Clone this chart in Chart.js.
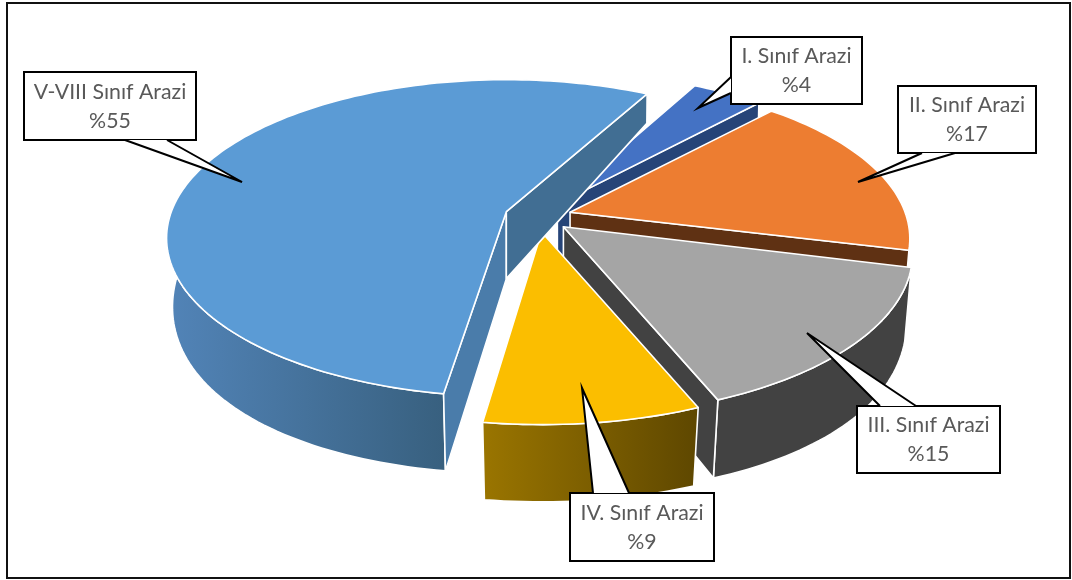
<!DOCTYPE html>
<html><head><meta charset="utf-8">
<style>html,body{margin:0;padding:0;background:#fff}#w{position:relative;width:1072px;height:580px}canvas{display:block}</style>
<script src="https://cdn.jsdelivr.net/npm/chart.js@4"></script></head>
<body><div id="w"><canvas id="c" width="1072" height="580"></canvas></div>
<script>
const categories = ['I. Sınıf Arazi','II. Sınıf Arazi','III. Sınıf Arazi','IV. Sınıf Arazi','V-VIII Sınıf Arazi'];
const values = [4,17,15,9,55];
const topColors = ['#4472C4','#ED7D31','#A5A5A5','#FBBE00','#5B9BD5'];
const wallLeft  = ['#264478','#5F3113','#424242','#9A7500','#5284B8'];
const wallRight = ['#264478','#5F3113','#424242','#5E4700','#38607F'];
const faceStart = ['#264478','#5F3113','#424242','#5E4700','#4A7CAA'];
const faceEnd   = ['#264478','#5F3113','#424242','#5E4700','#416E93'];
const callouts = [
 {r:[731,37,862,104], p:[[731,77],[698,108],[731,93]]},
 {r:[898,86,1036,153], p:[[955,153],[858,182],[922,153]]},
 {r:[857,406,1000,473], p:[[916,406],[807,333],[880,406]]},
 {r:[570,493,714,561], p:[[629,493],[582,388],[593,493]]},
 {r:[24,72,196,140], p:[[167,140],[242,182],[125,140]]}
];
const P = {cx:538, cy:216.7, rx:335, ry:154, k:0.167};
// small perspective corrections of the drawn edges, in degrees
const startAdj = [0,0,0.6,0,-1.1];
const endAdj   = [0,0,0,-2,0.7];
const pie3d = {
 id:'pie3d',
 beforeDatasetsDraw(chart){
  const ctx=chart.ctx, arcs=chart.getDatasetMeta(0).data;
  arcs.forEach((a,i)=>{
   const e=a.options.offset/a.outerRadius, mid=(a.startAngle+a.endAngle)/2;
   const oy=e*Math.sin(mid);
   const ax=P.cx+P.rx*e*Math.cos(mid), ay=P.cy+P.ry*oy;
   const z=1+0.42*Math.max(0,oy);
   const topPt=(u,v)=>{const d=1-P.k*v;return [ax+z*P.rx*u/d, ay+z*P.ry*v/d];};
   const botPt=(u,v)=>{const d=1-P.k*v,s=0.985-0.015*v;return [ax+z*P.rx*u/d*s, ay+67+z*185*v/(1-0.05*v)];};
   const sa=a.startAngle+startAdj[i]*Math.PI/180, ea=a.endAngle+endAdj[i]*Math.PI/180;
   const n=Math.max(8,Math.ceil((ea-sa)*40));
   const rim=[];
   for(let j=0;j<=n;j++){const t=sa+(ea-sa)*j/n;rim.push([Math.cos(t),Math.sin(t)]);}
   const poly=(pts,fill)=>{ctx.beginPath();pts.forEach((p,j)=>j?ctx.lineTo(p[0],p[1]):ctx.moveTo(p[0],p[1]));ctx.closePath();ctx.fillStyle=fill;ctx.fill();ctx.strokeStyle='#fff';ctx.lineWidth=1.6;ctx.lineJoin='round';ctx.stroke();};
   const A=topPt(0,0),B=botPt(0,0),first=rim[0],last=rim[n];
   const wt=rim.map(p=>topPt(...p)), wb=rim.map(p=>botPt(...p)).reverse();
   const xs=wt.map(p=>p[0]);
   const g=ctx.createLinearGradient(Math.min(...xs),0,i===4?wt[0][0]:Math.max(...xs),0);
   g.addColorStop(0,wallLeft[i]);g.addColorStop(1,wallRight[i]);
   poly(wt.concat(wb),g);
   const cross=(T,D)=>(T[0]-A[0])*(D[1]-T[1])-(T[1]-A[1])*(D[0]-T[0]);
   const T0=topPt(...first),D0=botPt(...first),T1=topPt(...last),D1=botPt(...last);
   if(cross(T0,D0)<0) poly([A,T0,D0,B],faceStart[i]);
   if(cross(T1,D1)>0) poly([A,T1,D1,B],faceEnd[i]);
   poly([A].concat(wt),a.options.backgroundColor);
  });
  callouts.forEach((c,i)=>{
   const [x0,y0,x1,y1]=c.r;
   ctx.beginPath();ctx.rect(x0,y0,x1-x0,y1-y0);ctx.fillStyle='#fff';ctx.fill();
   ctx.strokeStyle='#000';ctx.lineWidth=2;ctx.lineJoin='miter';ctx.stroke();
   ctx.beginPath();ctx.moveTo(c.p[0][0],c.p[0][1]);ctx.lineTo(c.p[1][0],c.p[1][1]);ctx.lineTo(c.p[2][0],c.p[2][1]);ctx.closePath();ctx.fill();
   ctx.beginPath();ctx.moveTo(c.p[0][0],c.p[0][1]);ctx.lineTo(c.p[1][0],c.p[1][1]);ctx.lineTo(c.p[2][0],c.p[2][1]);ctx.stroke();
   ctx.fillStyle='#595959';ctx.font='21.3px Lato';ctx.textAlign='center';ctx.textBaseline='middle';
   const mx=(x0+x1)/2,my=(y0+y1)/2;
   ctx.fillText(chart.data.labels[i],mx,my-14);
   ctx.fillText('%'+chart.data.datasets[0].data[i],mx,my+15);
  });
  ctx.strokeStyle='#111';ctx.lineWidth=2;ctx.strokeRect(7,3,1063,575);
  return false;
 }
};
new Chart(document.getElementById('c'),{
 type:'pie',
 data:{labels:categories,datasets:[{data:values,backgroundColor:topColors,offset:10,borderWidth:0}]},
 options:{responsive:false,animation:false,radius:100,rotation:28.1,
  plugins:{legend:{display:false},tooltip:{enabled:false}}},
 plugins:[pie3d]
});
</script></body></html>
